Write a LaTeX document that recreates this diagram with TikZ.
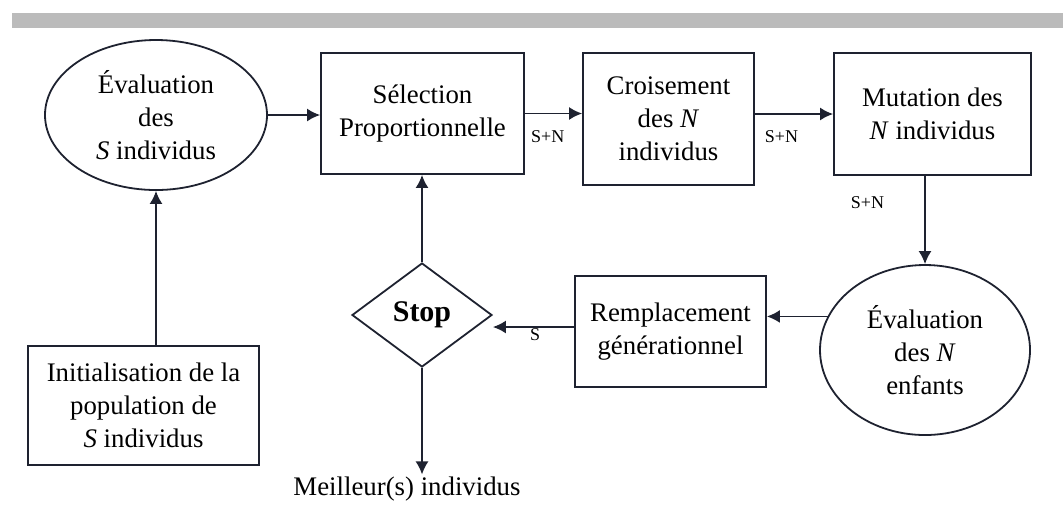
\documentclass[tikz,border=0pt]{standalone}
\usepackage{fontspec}
\setmainfont{Liberation Serif}
\usetikzlibrary{arrows.meta,positioning,shapes.geometric}
\definecolor{lineCol}{HTML}{1E2230}
\definecolor{barGray}{HTML}{BBBBBB}

\begin{document}
\begin{tikzpicture}[
    x=0.5pt, y=-0.5pt,
    every node/.style={font=\fontsize{13.4}{16.5}\selectfont},
    box/.style={draw=lineCol, line width=0.9pt, align=center, inner sep=2pt},
    evalnode/.style={draw=lineCol, line width=0.9pt, ellipse, align=center, inner sep=0pt},
    decision/.style={draw=lineCol, line width=0.9pt, diamond, inner sep=0pt, minimum width=70pt, minimum height=52pt, font=\fontsize{15}{18}\selectfont\bfseries},
    lbl/.style={font=\fontsize{9}{11}\selectfont, inner sep=1pt},
    flow/.style={-{Latex[length=6.5pt, width=6.5pt]}, draw=lineCol, line width=0.9pt}
]
\useasboundingbox (0,0) rectangle (1063,511);
\fill[barGray] (12,13) rectangle (1063,28);

\node[evalnode, minimum width=111pt, minimum height=75pt] (evalS) at (156,115) {Évaluation\\des\\\textit{S} individus};
\node[box, minimum width=101.5pt, minimum height=60.5pt] (select) at (422.5,113.5) {Sélection\\Proportionnelle};
\node[box, minimum width=85.5pt, minimum height=66pt] (cross) at (668.5,119) {Croisement\\des \textit{N}\\individus};
\node[box, minimum width=98.5pt, minimum height=61pt] (mutate) at (932.5,114) {Mutation des\\\textit{N} individus};
\node[evalnode, minimum width=105pt, minimum height=85pt] (evalN) at (925,350) {Évaluation\\des \textit{N}\\enfants};
\node[box, minimum width=95.5pt, minimum height=55.5pt] (replace) at (670.5,331.5) {Remplacement\\générationnel};
\node[decision] (stop) at (422,315) {Stop};
\node[box, minimum width=115.5pt, minimum height=59.5pt] (init) at (143.5,405.5) {Initialisation de la\\population de\\\textit{S} individus};
\node[inner sep=1pt] (best) at (407,489) {Meilleur(s) individus};

\draw[flow] (evalS.east) -- (evalS.east -| select.west);
\draw[flow] (select.east) -- node[lbl, below=7pt, pos=0.4] {S+N} (select.east -| cross.west);
\draw[flow] (cross.east |- mutate.west) -- node[lbl, below=7pt, pos=0.34] {S+N} (mutate.west);
\draw[flow] (mutate.south -| evalN.north) -- node[lbl, left=19pt, pos=0.3] {S+N} (evalN.north);
\draw[flow] (evalN.161) -- (evalN.161 -| replace.east);
\draw[flow] ([yshift=2.25pt]replace.west) -- node[lbl, below, inner sep=0.5pt, pos=0.48] {S} ([yshift=2.25pt]replace.west -| stop.east);
\draw[flow] (stop.north) -- (stop.north |- select.south);
\draw[flow] (stop.south) -- (stop.south |- best.north);
\draw[flow] (evalS.south |- init.north) -- (evalS.south);
\end{tikzpicture}
\end{document}
